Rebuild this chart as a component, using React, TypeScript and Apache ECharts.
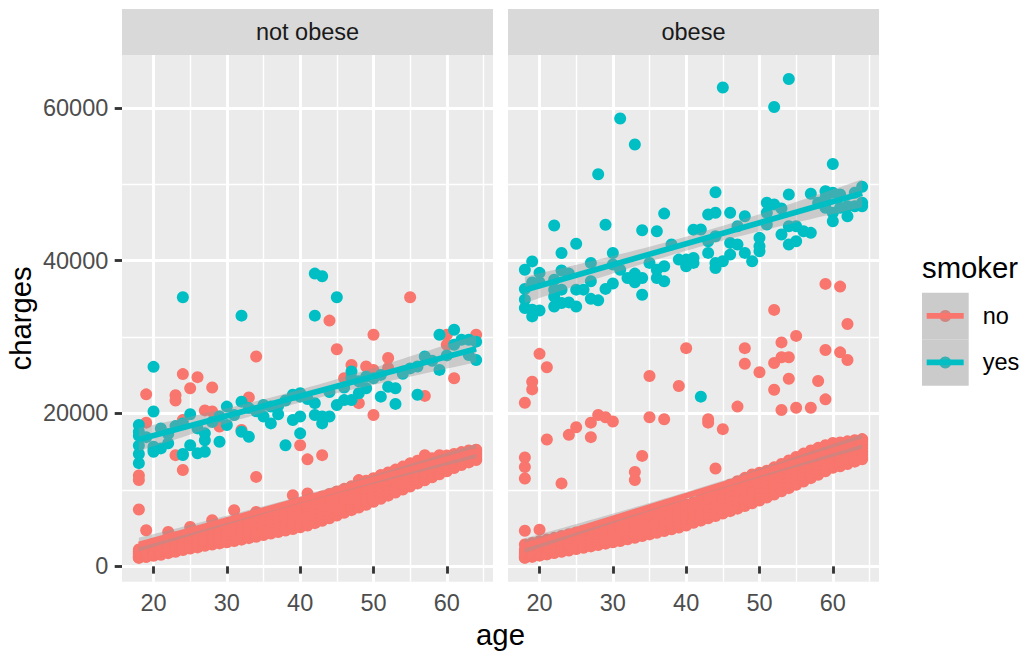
import React, { useEffect, useRef } from "react";
import * as echarts from "echarts";

const FONT = '"Liberation Sans", Arial, Helvetica, sans-serif';

// Facets (bmi >= 30 -> obese) and smoker levels
const panelNames = ["not obese", "obese"];
const smokerLevels = ["no", "yes"];
const smokerColors = ["#F8766D", "#00BFC4"];
const xTicks = [20, 30, 40, 50, 60];
const yTicks = [0, 20000, 40000, 60000];

// Non-smokers, not obese: the dense band, one row per age -> [age, ...charges]
const notObeseNoBand = [
  [18, 1122, 1137, 1256, 1391, 1615, 1728, 1984, 2211],
  [19, 1242, 1263, 1421, 1632, 1711, 1906, 2138, 2640],
  [20, 1391, 1526, 1607, 1760, 1967, 2130, 2457, 2950],
  [21, 1515, 1622, 1880, 2020, 2254, 2585, 2898, 3180],
  [22, 1727, 1795, 1964, 2156, 2395, 2730, 3167, 3597],
  [23, 1906, 2020, 2187, 2395, 2637, 2974, 3392, 3764],
  [24, 2138, 2250, 2404, 2643, 2902, 3201, 3560, 3955],
  [25, 2331, 2415, 2632, 2874, 3097, 3438, 3818, 4195],
  [26, 2480, 2590, 2800, 3055, 3385, 3670, 4040, 4420],
  [27, 2690, 2780, 2990, 3260, 3530, 3870, 4265, 4680],
  [28, 2850, 2935, 3150, 3410, 3732, 4076, 4460, 4905],
  [29, 3000, 3120, 3345, 3598, 3920, 4250, 4700, 5140],
  [30, 3150, 3260, 3480, 3760, 4090, 4470, 4890, 5290],
  [31, 3300, 3410, 3650, 3935, 4260, 4630, 5060, 5480],
  [32, 3490, 3600, 3850, 4140, 4480, 4850, 5290, 5760],
  [33, 3690, 3800, 4060, 4350, 4690, 5070, 5520, 6030],
  [34, 3880, 4010, 4270, 4570, 4920, 5320, 5790, 6300],
  [35, 4090, 4220, 4490, 4800, 5160, 5580, 6060, 6610],
  [36, 4290, 4430, 4710, 5040, 5420, 5850, 6360, 6920],
  [37, 4480, 4630, 4930, 5270, 5670, 6120, 6650, 7240],
  [38, 4690, 4850, 5160, 5520, 5930, 6400, 6960, 7540],
  [39, 4890, 5060, 5390, 5760, 6200, 6690, 7280, 7870],
  [40, 5100, 5280, 5620, 6010, 6470, 6990, 7600, 8200],
  [41, 5350, 5530, 5880, 6290, 6760, 7290, 7900, 8300],
  [42, 5650, 5840, 6200, 6610, 7090, 7620, 8230, 8830],
  [43, 5950, 6140, 6510, 6930, 7420, 7960, 8570, 9150],
  [44, 6300, 6490, 6860, 7280, 7770, 8300, 8900, 9470],
  [45, 6650, 6840, 7210, 7630, 8120, 8650, 9240, 9800],
  [46, 7000, 7190, 7570, 7990, 8470, 9000, 9590, 10140],
  [47, 7350, 7550, 7930, 8350, 8830, 9360, 9940, 10480],
  [48, 7700, 7900, 8290, 8720, 9200, 9730, 10300, 10830],
  [49, 8050, 8260, 8650, 9090, 9580, 10100, 10660, 11190],
  [50, 8450, 8650, 9040, 9480, 9970, 10490, 11050, 11540],
  [51, 8850, 9050, 9440, 9870, 10360, 10870, 11420, 11910],
  [52, 9250, 9450, 9840, 10270, 10750, 11260, 11800, 12290],
  [53, 9650, 9850, 10230, 10660, 11130, 11630, 12160, 12660],
  [54, 10050, 10250, 10630, 11050, 11520, 12010, 12530, 13050],
  [55, 10450, 10650, 11020, 11440, 11900, 12380, 12890, 13440],
  [56, 10850, 11050, 11420, 11830, 12280, 12750, 13250, 13830],
  [57, 11250, 11440, 11800, 12200, 12640, 13100, 13590, 14230],
  [58, 11650, 11830, 12170, 12550, 12960, 13390, 13840, 14150],
  [59, 12050, 12220, 12540, 12890, 13270, 13660, 14060, 14300],
  [60, 12450, 12600, 12900, 13220, 13560, 13900, 14220, 14500],
  [61, 12850, 12990, 13260, 13550, 13850, 14150, 14440, 14700],
  [62, 13250, 13380, 13620, 13880, 14150, 14420, 14690, 14950],
  [63, 13600, 13720, 13940, 14170, 14410, 14650, 14890, 15150],
  [64, 13900, 14010, 14210, 14420, 14640, 14860, 15050, 15250],
];

// Non-smokers, not obese: points away from the band
const notObeseNoOther = [
  [34, 27450], [24, 25150], [26, 24750], [25, 23300], [28, 23400], [19, 22500], [23, 22400],
  [23, 21700], [33, 22100], [28, 20250], [27, 20400], [19, 18800], [24, 19150], [29, 18300],
  [32, 17850], [40, 15850], [41, 14000], [23, 14550], [24, 12600], [34, 11700], [18, 11900],
  [18, 11300], [18, 7430], [19, 4720], [55, 35200], [44, 32150], [50, 30300], [45, 28400],
  [64, 30300], [60, 30300], [60, 29000], [47, 26350], [49, 26150], [50, 25700], [52, 27250],
  [52, 25950], [54, 25500], [46, 24600], [61, 24600], [57, 22300], [48, 21350], [50, 19800],
  [43, 14550], [57, 14550], [59, 14550], [55, 13470], [51, 11930], [48, 11280], [45, 9740],
  [41, 9530], [64, 15210], [31, 7340], [25, 5150], [22, 4500], [28, 6030], [39, 9310], [34, 7120],
];

// Smokers, not obese
const notObeseYes = [
  [18, 18500], [18, 17600], [18, 17100], [18, 15800], [18, 14700], [18, 13500],
  [20, 26100], [20, 20250], [21, 18050], [20, 15650], [20, 15300], [20, 14990], [21, 15430],
  [23, 18350], [24, 18700], [25, 19900], [25, 15850], [24, 14700], [24, 14560], [22, 17300],
  [26, 18050], [27, 17400], [27, 16500], [26, 14800], [27, 14990], [19, 16900], [22, 16100],
  [24, 35200], [32, 32800], [30, 20900], [29, 19600], [30, 18500], [29, 16300], [28, 18900],
  [32, 21550], [32, 17600], [33, 16950], [31, 19800], [35, 21100], [36, 20900], [35, 19600],
  [36, 18700], [34, 20300], [37, 21000], [39, 22450], [40, 22650], [39, 19150], [40, 19600],
  [40, 17400], [38, 15850], [38, 21700], [42, 38300], [43, 37950], [45, 35200], [42, 32800],
  [47, 25500], [47, 24600], [49, 23300], [50, 24600], [51, 25050], [52, 23500], [53, 23300],
  [56, 26150], [57, 27450], [59, 25700], [51, 22200], [53, 21250], [56, 22450], [45, 21100],
  [46, 21750], [47, 21750], [48, 22650], [44, 22800], [46, 23400], [48, 24200], [42, 21350],
  [42, 19800], [43, 19600], [44, 19600], [43, 18700], [40, 22200], [59, 30300], [61, 30950],
  [62, 29650], [64, 29400], [61, 29000], [63, 29650], [64, 27000], [63, 27650], [54, 25200],
  [55, 25900], [58, 26900], [60, 27600], [33, 20700], [37, 19900], [41, 21900], [49, 24800],
];

// Non-smokers, obese: the dense band, one row per age -> [age, ...charges]
const obeseNoBand = [
  [18, 1131, 1148, 1270, 1420, 1630, 1880, 2200, 2850],
  [19, 1260, 1300, 1460, 1650, 1880, 2150, 2490, 3050],
  [20, 1400, 1460, 1640, 1850, 2100, 2400, 2760, 3280],
  [21, 1560, 1620, 1810, 2040, 2310, 2630, 3010, 3500],
  [22, 1730, 1800, 2000, 2240, 2530, 2870, 3270, 3730],
  [23, 1900, 1970, 2180, 2440, 2740, 3100, 3520, 3960],
  [24, 2080, 2160, 2380, 2650, 2970, 3340, 3780, 4200],
  [25, 2260, 2340, 2570, 2850, 3180, 3570, 4020, 4430],
  [26, 2430, 2520, 2760, 3050, 3400, 3800, 4260, 4660],
  [27, 2610, 2700, 2950, 3250, 3610, 4020, 4490, 4890],
  [28, 2790, 2890, 3150, 3460, 3830, 4250, 4720, 5120],
  [29, 2970, 3070, 3340, 3660, 4040, 4470, 4950, 5350],
  [30, 3150, 3260, 3540, 3870, 4260, 4700, 5190, 5560],
  [31, 3320, 3440, 3730, 4070, 4470, 4920, 5410, 5700],
  [32, 3530, 3650, 3950, 4300, 4710, 5170, 5670, 5980],
  [33, 3740, 3870, 4180, 4540, 4960, 5420, 5930, 6260],
  [34, 3960, 4090, 4410, 4780, 5200, 5670, 6190, 6540],
  [35, 4180, 4310, 4640, 5020, 5450, 5930, 6460, 6830],
  [36, 4400, 4540, 4880, 5270, 5710, 6190, 6730, 7120],
  [37, 4630, 4770, 5120, 5520, 5970, 6460, 7000, 7410],
  [38, 4860, 5010, 5370, 5780, 6240, 6740, 7280, 7710],
  [39, 5090, 5250, 5620, 6040, 6510, 7020, 7570, 8010],
  [40, 5330, 5490, 5870, 6300, 6780, 7300, 7850, 8100],
  [41, 5700, 5860, 6230, 6650, 7120, 7620, 8150, 8400],
  [42, 5980, 6150, 6530, 6960, 7440, 7950, 8490, 8880],
  [43, 6280, 6450, 6840, 7280, 7770, 8290, 8840, 9320],
  [44, 6590, 6760, 7160, 7610, 8110, 8640, 9200, 9770],
  [45, 6900, 7080, 7490, 7950, 8460, 9000, 9570, 10220],
  [46, 7220, 7410, 7830, 8300, 8820, 9370, 9950, 10680],
  [47, 7550, 7740, 8170, 8650, 9180, 9740, 10330, 11130],
  [48, 7890, 8090, 8530, 9020, 9560, 10130, 10730, 11580],
  [49, 8240, 8440, 8890, 9390, 9940, 10520, 11130, 12020],
  [50, 8610, 8820, 9280, 9790, 10350, 10940, 11560, 12240],
  [51, 9000, 9210, 9680, 10200, 10770, 11370, 12000, 12500],
  [52, 9400, 9620, 10100, 10630, 11210, 11820, 12450, 12950],
  [53, 9810, 10040, 10530, 11070, 11660, 12270, 12900, 13400],
  [54, 10230, 10460, 10960, 11510, 12100, 12720, 13350, 13850],
  [55, 10660, 10900, 11410, 11970, 12570, 13190, 13820, 14300],
  [56, 11100, 11340, 11860, 12420, 13020, 13640, 14260, 14750],
  [57, 11540, 11780, 12300, 12860, 13450, 14050, 14660, 15150],
  [58, 11990, 12230, 12750, 13300, 13880, 14460, 15040, 15500],
  [59, 12440, 12680, 13190, 13730, 14290, 14850, 15400, 15850],
  [60, 12890, 13120, 13620, 14140, 14680, 15210, 15730, 16150],
  [61, 13100, 13330, 13800, 14300, 14810, 15320, 15810, 16200],
  [62, 13390, 13610, 14060, 14540, 15030, 15510, 15970, 16350],
  [63, 13700, 13910, 14340, 14800, 15260, 15710, 16130, 16500],
  [64, 14000, 14200, 14610, 15040, 15480, 15910, 16290, 16650],
];

// Non-smokers, obese: points away from the band
const obeseNoOther = [
  [20, 27800], [21, 26050], [19, 24150], [19, 23150], [18, 21400], [18, 14250], [18, 13000],
  [18, 11500], [21, 16600], [23, 10850], [24, 17200], [25, 18200], [27, 18800], [28, 19800],
  [29, 19500], [30, 18950], [27, 16900], [33, 12350], [33, 11300], [34, 14450], [35, 24900],
  [35, 19500], [37, 19250], [39, 23600], [40, 28550], [18, 4650], [20, 4800], [52, 33550],
  [62, 31700], [55, 30150], [53, 29300], [48, 28550], [48, 26500], [53, 27350], [54, 27350],
  [52, 26600], [50, 25400], [59, 28300], [61, 28000], [62, 27000], [54, 24550], [58, 24250],
  [52, 23100], [59, 21850], [47, 20900], [53, 20450], [55, 20750], [57, 20750], [43, 19250],
  [43, 18800], [45, 17950], [44, 12800], [59, 36950], [61, 36600], [49, 11710], [52, 12810],
  [54, 12810], [56, 13470], [59, 14780], [62, 15650], [64, 16520], [48, 11280], [41, 8300],
];

// Smokers, obese
const obeseYes = [
  [31, 58600], [33, 55200], [28, 51300], [22, 44600], [29, 44700], [34, 43980], [36, 43840],
  [37, 46150], [25, 42200], [23, 41000], [30, 41000], [27, 39700], [19, 39900], [18, 38800],
  [20, 38400], [23, 38700], [24, 38300], [22, 37500], [22, 36200], [22, 35300], [23, 36200],
  [19, 37150], [20, 37150], [18, 36300], [18, 34900], [18, 33800], [19, 33570], [20, 33480],
  [19, 32700], [22, 34000], [23, 34450], [24, 34530], [25, 34000], [25, 36200], [26, 36200],
  [27, 37300], [27, 35000], [28, 34800], [29, 36300], [30, 37000], [30, 39500], [31, 38800],
  [32, 37730], [33, 38300], [34, 37730], [33, 37160], [34, 35540], [35, 39700], [36, 38800],
  [37, 39260], [36, 37730], [37, 37290], [38, 42100], [39, 40130], [40, 40130], [40, 39260],
  [41, 44050], [45, 62650], [54, 63770], [52, 60100], [60, 52650], [44, 48950], [54, 48650],
  [57, 48750], [59, 49090], [60, 48880], [61, 48660], [63, 48880], [64, 49670], [51, 47570],
  [52, 47350], [53, 46820], [51, 46260], [43, 46030], [44, 46260], [46, 46260], [48, 45810],
  [42, 44070], [47, 44500], [51, 44720], [43, 42530], [43, 41010], [44, 43190], [41, 40350],
  [41, 39700], [44, 39700], [45, 39910], [44, 39040], [46, 42320], [46, 40790], [47, 42100],
  [48, 41010], [49, 39910], [50, 42980], [50, 41880], [50, 41230], [53, 43410], [54, 44500],
  [55, 44500], [54, 42100], [55, 42530], [56, 43840], [57, 43630], [59, 46910], [60, 46260],
  [61, 46910], [62, 47120], [63, 47120], [64, 47120], [60, 45150], [62, 45810], [64, 47570],
  [58, 47570], [59, 48220], [42, 22200],
];

type Pt = [number, number];

function bandToPoints(band: number[][]): Pt[] {
  const out: Pt[] = [];
  band.forEach(([age, ...vals]) => {
    vals.forEach((v) => out.push([age, v]));
  });
  return out;
}

// Ordinary least squares with a 95% confidence ribbon, as geom_smooth(method = "lm")
function lmFit(pts: Pt[]) {
  const n = pts.length;
  let mx = 0, my = 0;
  pts.forEach(([x, y]) => { mx += x; my += y; });
  mx /= n; my /= n;
  let sxx = 0, sxy = 0;
  pts.forEach(([x, y]) => { sxx += (x - mx) * (x - mx); sxy += (x - mx) * (y - my); });
  const b = sxy / sxx;
  const a = my - b * mx;
  let rss = 0;
  pts.forEach(([x, y]) => { const r = y - a - b * x; rss += r * r; });
  const s = Math.sqrt(rss / (n - 2));
  const t = 1.96 + 2.4 / (n - 2);
  const xs = pts.map((p) => p[0]);
  const xmin = Math.min(...xs), xmax = Math.max(...xs);
  const steps = 60;
  const ribbon: number[][] = [];
  for (let k = 0; k <= steps; k++) {
    const x = xmin + ((xmax - xmin) * k) / steps;
    const yh = a + b * x;
    const se = s * Math.sqrt(1 / n + ((x - mx) * (x - mx)) / sxx);
    ribbon.push([x, yh - t * se, yh + t * se]);
  }
  return { line: [[xmin, a + b * xmin], [xmax, a + b * xmax]], ribbon };
}

const groups: Pt[][][] = [
  [bandToPoints(notObeseNoBand).concat(notObeseNoOther as Pt[]), notObeseYes as Pt[]],
  [bandToPoints(obeseNoBand).concat(obeseNoOther as Pt[]), obeseYes as Pt[]],
];

export default function App() {
  const ref = useRef<HTMLDivElement>(null);

  useEffect(() => {
    if (!ref.current) return;
    const chart = echarts.init(ref.current, undefined, { renderer: "svg" });

    // ggplot-style 5% expansion of the data range
    const all = groups.flat(2);
    const ages = all.map((p) => p[0]);
    const ch = all.map((p) => p[1]);
    const aMin = Math.min(...ages), aMax = Math.max(...ages);
    const cMin = Math.min(...ch), cMax = Math.max(...ch);
    const xPad = (aMax - aMin) * 0.05, yPad = (cMax - cMin) * 0.05;

    const panelLeft = [122, 508];
    const panelW = 371;
    const panelTop = 55;
    const panelH = 526.7;

    const grids = panelLeft.map((l) => ({
      left: l, top: panelTop, width: panelW, height: panelH,
      show: true, backgroundColor: "#EBEBEB", borderWidth: 0,
    }));

    const xAxes = panelLeft.map((_, i) => ({
      type: "value", gridIndex: i, min: aMin - xPad, max: aMax + xPad, splitNumber: 5,
      axisLine: { show: false },
      axisTick: { show: true, length: 7.3, customValues: xTicks, lineStyle: { color: "#333333", width: 2.85 } },
      axisLabel: {
        show: true, customValues: xTicks, color: "#4D4D4D", fontSize: 23.5, fontFamily: FONT, margin: 9,
        formatter: (v: number) => String(v),
      },
      splitLine: { show: true, lineStyle: { color: "#FFFFFF", width: 2.85 } },
      minorTick: { show: false, splitNumber: 2 },
      minorSplitLine: { show: true, lineStyle: { color: "#FFFFFF", width: 1.42 } },
    }));

    const yAxes = panelLeft.map((_, i) => ({
      type: "value", gridIndex: i, min: cMin - yPad, max: cMax + yPad, splitNumber: 3,
      axisLine: { show: false },
      axisTick: { show: i === 0, length: 7.3, customValues: yTicks, lineStyle: { color: "#333333", width: 2.85 } },
      axisLabel: {
        show: i === 0, customValues: yTicks, color: "#4D4D4D", fontSize: 23.5, fontFamily: FONT, margin: 13.7,
        formatter: (v: number) => String(v),
      },
      splitLine: { show: true, lineStyle: { color: "#FFFFFF", width: 2.85 } },
      minorTick: { show: false, splitNumber: 2 },
      minorSplitLine: { show: true, lineStyle: { color: "#FFFFFF", width: 1.42 } },
    }));

    const series: any[] = [];
    groups.forEach((panel, pi) => {
      panel.forEach((pts, si) => {
        series.push({
          type: "scatter", xAxisIndex: pi, yAxisIndex: pi, data: pts,
          symbol: "circle", symbolSize: 12, silent: true, z: 2,
          itemStyle: { color: smokerColors[si], opacity: 1 },
        });
      });
    });
    groups.forEach((panel, pi) => {
      panel.forEach((pts, si) => {
        const fit = lmFit(pts);
        series.push({
          type: "custom", xAxisIndex: pi, yAxisIndex: pi, silent: true, z: 3,
          data: fit.ribbon, encode: { x: 0, y: [1, 2] },
          renderItem: (params: any, api: any) => {
            if (params.dataIndex !== 0) return null;
            const up = fit.ribbon.map((p) => api.coord([p[0], p[2]]));
            const lo = fit.ribbon.map((p) => api.coord([p[0], p[1]])).reverse();
            return {
              type: "polygon", shape: { points: up.concat(lo) },
              style: { fill: "rgba(153,153,153,0.4)" },
            };
          },
        });
        series.push({
          type: "line", xAxisIndex: pi, yAxisIndex: pi, data: fit.line,
          symbol: "none", silent: true, z: 4,
          lineStyle: { color: smokerColors[si], width: 5.7, cap: "butt" },
        });
      });
    });

    const graphic: any[] = [];
    panelNames.forEach((name, i) => {
      graphic.push({
        type: "rect", shape: { x: panelLeft[i], y: 9, width: panelW, height: 46 },
        style: { fill: "#D9D9D9" }, silent: true,
      });
      graphic.push({
        type: "text", x: panelLeft[i] + panelW / 2, y: 32,
        style: { text: name, fill: "#1A1A1A", font: `23.5px ${FONT}`, align: "center", verticalAlign: "middle" },
      });
    });
    // axis titles
    graphic.push({
      type: "text", x: (panelLeft[0] + panelLeft[1] + panelW) / 2, y: 634,
      style: { text: "age", fill: "#000000", font: `29.3px ${FONT}`, align: "center", verticalAlign: "middle" },
    });
    graphic.push({
      type: "text", x: 20, y: panelTop + panelH / 2, rotation: Math.PI / 2,
      style: { text: "charges", fill: "#000000", font: `29.3px ${FONT}`, align: "center", verticalAlign: "middle" },
    });
    // legend
    graphic.push({
      type: "text", x: 922, y: 267,
      style: { text: "smoker", fill: "#000000", font: `29.3px ${FONT}`, align: "left", verticalAlign: "middle" },
    });
    const keyDark = ["#D2847F", "#3DB0B3"];
    smokerLevels.forEach((lv, i) => {
      const top = 292.7 + i * 46.5;
      const cy = top + 23.25;
      graphic.push({
        type: "rect", shape: { x: 922, y: top, width: 46.7, height: 46.5 },
        style: { fill: "#CBCBCB" }, silent: true,
      });
      graphic.push({
        type: "circle", shape: { cx: 945.3, cy, r: 6 }, style: { fill: keyDark[i] }, silent: true,
      });
      graphic.push({
        type: "line", shape: { x1: 926.7, y1: cy, x2: 963.7, y2: cy },
        style: { stroke: smokerColors[i], lineWidth: 5.7 }, silent: true,
      });
      graphic.push({
        type: "text", x: 982.7, y: cy,
        style: { text: lv, fill: "#000000", font: `23.5px ${FONT}`, align: "left", verticalAlign: "middle" },
      });
    });

    chart.setOption({
      animation: false,
      textStyle: { fontFamily: FONT },
      grid: grids,
      xAxis: xAxes,
      yAxis: yAxes,
      series,
      graphic,
    });

    return () => chart.dispose();
  }, []);

  return (
    <div
      ref={ref}
      style={{ position: "fixed", left: 0, top: 0, width: 1022, height: 651, background: "#FFFFFF" }}
    />
  );
}
